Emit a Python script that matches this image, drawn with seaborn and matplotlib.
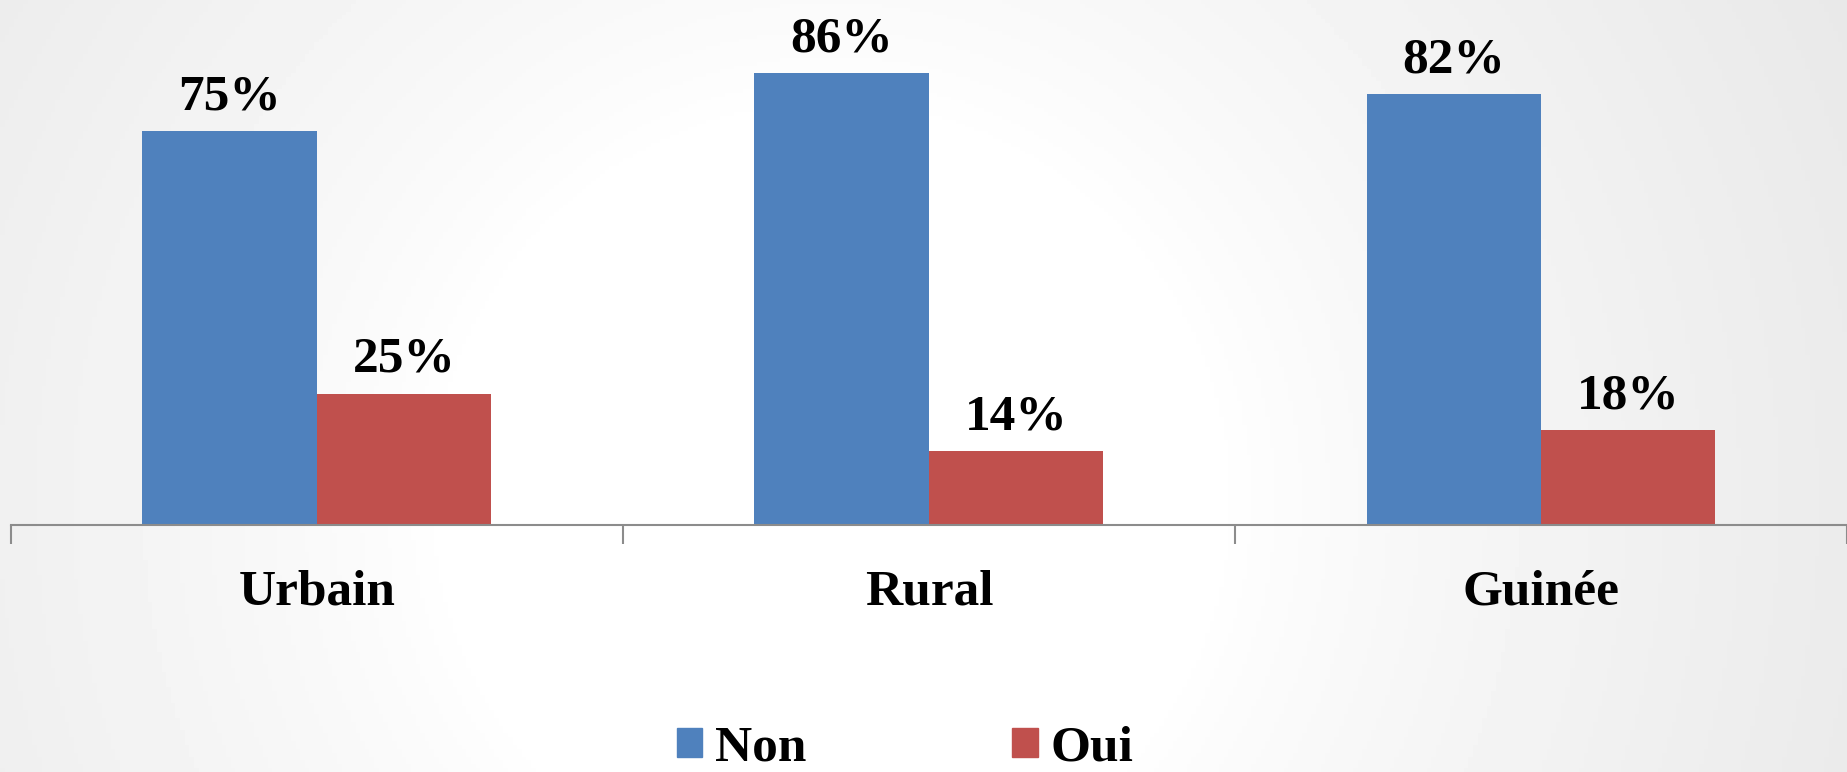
import numpy as np
import pandas as pd
import matplotlib
matplotlib.use("Agg")
import matplotlib.pyplot as plt
import seaborn as sns

# ── data ────────────────────────────────────────
categories = ["Urbain", "Rural", "Guinée"]
non_values = [75, 86, 82]
oui_values = [25, 14, 18]
series     = ["Non", "Oui"]
colors     = ["#4F81BD", "#C0504D"]

df = pd.DataFrame({
    "zone":  categories * 2,
    "rep":   ["Non"] * 3 + ["Oui"] * 3,
    "value": non_values + oui_values,
})

sns.set_style("white")
plt.rcParams["font.family"] = ["Liberation Serif", "DejaVu Serif"]
plt.rcParams["font.weight"] = "bold"
plt.rcParams["text.color"] = "black"
plt.rcParams["xtick.color"] = "black"
FS = 37

fig = plt.figure(figsize=(18.47, 7.72), dpi=100)

# soft radial background
bg = fig.add_axes([0, 0, 1, 1], zorder=-10)
yy, xx = np.mgrid[0:1:200j, 0:1:400j]
r = np.sqrt(((xx - 0.45) * 2.4) ** 2 + ((yy - 0.35) * 1.0) ** 2)
shade = 1 - 0.09 * np.clip(r - 0.5, 0, None) ** 0.8
bg.imshow(shade, cmap="gray", vmin=0, vmax=1, aspect="auto",
          extent=[0, 1, 0, 1], origin="lower")
bg.axis("off")

ax = fig.add_axes([0.0058, 0.32, 0.9942, 0.68])
ax.set_facecolor("none")
sns.barplot(data=df, x="zone", y="value", hue="rep", order=categories,
            hue_order=series, palette=colors, saturation=1, width=0.57,
            linewidth=0, ax=ax, legend=False)

for cont in ax.containers:
    ax.bar_label(cont, labels=[f"{int(v)}%" for v in cont.datavalues],
                 padding=8, fontsize=FS, fontweight="bold", color="black",
                 clip_on=False)

ax.set_xlim(-0.5, 2.5)
ax.set_ylim(0, 100)
ax.set_xlabel("")
ax.set_ylabel("")
ax.set_yticks([])
for s in ["top", "right", "left"]:
    ax.spines[s].set_visible(False)
ax.spines["bottom"].set_color("#8c8c8c")
ax.spines["bottom"].set_linewidth(1.5)
ax.set_xticks([-0.5, 0.5, 1.5, 2.5], minor=True)
ax.tick_params(axis="x", which="minor", bottom=True, length=14, width=1.5,
               color="#8c8c8c")
ax.tick_params(axis="x", which="major", length=0, pad=32, labelsize=FS,
               labelcolor="black")
for lab in ax.get_xticklabels():
    lab.set_fontweight("bold")

handles = [plt.Rectangle((0, 0), 1, 1, color=c) for c in colors]
fig.legend(handles, series, loc="center", bbox_to_anchor=(0.49, 0.03),
           ncol=2, frameon=False, handlelength=0.5,
           handleheight=0.5, handletextpad=0.25, columnspacing=4.0,
           prop={"weight": "bold", "size": FS}, labelcolor="black")

fig.savefig("out.png", dpi=100)
